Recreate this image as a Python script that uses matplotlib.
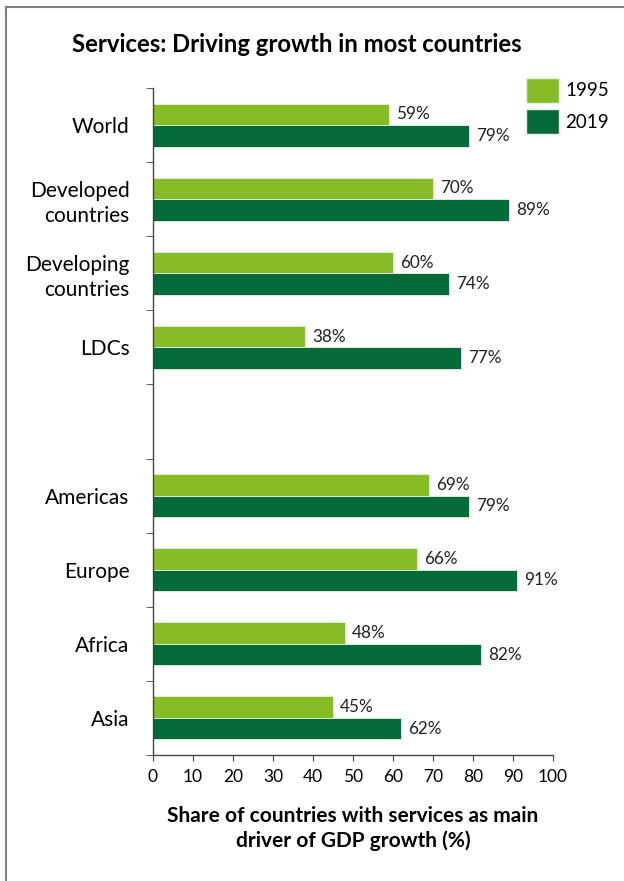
import numpy as np
import matplotlib
matplotlib.use("Agg")
import matplotlib.pyplot as plt
from matplotlib.lines import Line2D
from matplotlib.patches import Patch

plt.rcParams['font.family'] = ['Lato', 'DejaVu Sans']

# groups and regions, shares of countries (%)
groups = ["World", "Developed\ncountries", "Developing\ncountries", "LDCs"]
regions = ["Americas", "Europe", "Africa", "Asia"]
share_1995 = [59, 70, 60, 38, 69, 66, 48, 45]
share_2019 = [79, 89, 74, 77, 79, 91, 82, 62]
years = ["1995", "2019"]
colors = ["#86bc25", "#046a38"]

labels = groups + regions
# one empty slot between the groups and the regions
slots = np.r_[np.arange(len(groups)), np.arange(len(regions)) + len(groups) + 1]
n_slots = len(groups) + len(regions) + 1
h = 0.29

fig = plt.figure(figsize=(6.24, 8.81), dpi=100)
ax = fig.add_axes([153 / 624, 1 - 755 / 881, 400 / 624, 667 / 881])

centers = slots + 0.5
for vals, off, c in [(share_1995, -h / 2, colors[0]), (share_2019, h / 2, colors[1])]:
    ax.barh(centers + off, vals, height=h, color=c, edgecolor="#e8f3e8", linewidth=0.6)
    for y, v in zip(centers + off, vals):
        ax.text(v + 1.8, y, f"{v}%", va="center", ha="left", fontsize=12.3, color="#222222")

ax.set_xlim(0, 100)
ax.set_ylim(n_slots, 0)
ax.set_xticks(np.arange(0, 101, 10))
ax.set_yticks(centers)
ax.set_yticklabels(labels, fontsize=15, multialignment="right", linespacing=1.3)
ax.set_yticks(np.arange(n_slots + 1), minor=True)
ax.tick_params(axis="y", which="major", length=0, pad=17)
ax.tick_params(axis="y", which="minor", length=5, direction="out", color="#444444")
ax.tick_params(axis="x", length=4, direction="out", labelsize=12.5, color="#444444", pad=6)
for s in ["top", "right"]:
    ax.spines[s].set_visible(False)
for s in ["left", "bottom"]:
    ax.spines[s].set_color("#444444")
    ax.spines[s].set_linewidth(1.0)

ax.set_xlabel("Share of countries with services as main\ndriver of GDP growth (%)",
              fontsize=15, fontweight="bold", labelpad=15, linespacing=1.3)

fig.text(72 / 624, 1 - 45 / 881, "Services: Driving growth in most countries",
         fontsize=17.2, fontweight="bold", ha="left", va="center")

handles = [Patch(facecolor=c, edgecolor="#e8f3e8") for c in colors]
fig.legend(handles, years, loc="upper left", bbox_to_anchor=(509 / 624, 1 - 61 / 881),
           frameon=False, fontsize=13.5, handlelength=1.75, handleheight=1.65,
           handletextpad=0.35, labelspacing=0.35)

# grey frame on top and left
fig.add_artist(Line2D([6 / 624, 1], [1 - 7 / 881, 1 - 7 / 881], color="#7f7f7f", lw=1.5))
fig.add_artist(Line2D([6 / 624, 6 / 624], [0, 1 - 7 / 881], color="#7f7f7f", lw=1.5))

fig.savefig("out.png", dpi=100)
